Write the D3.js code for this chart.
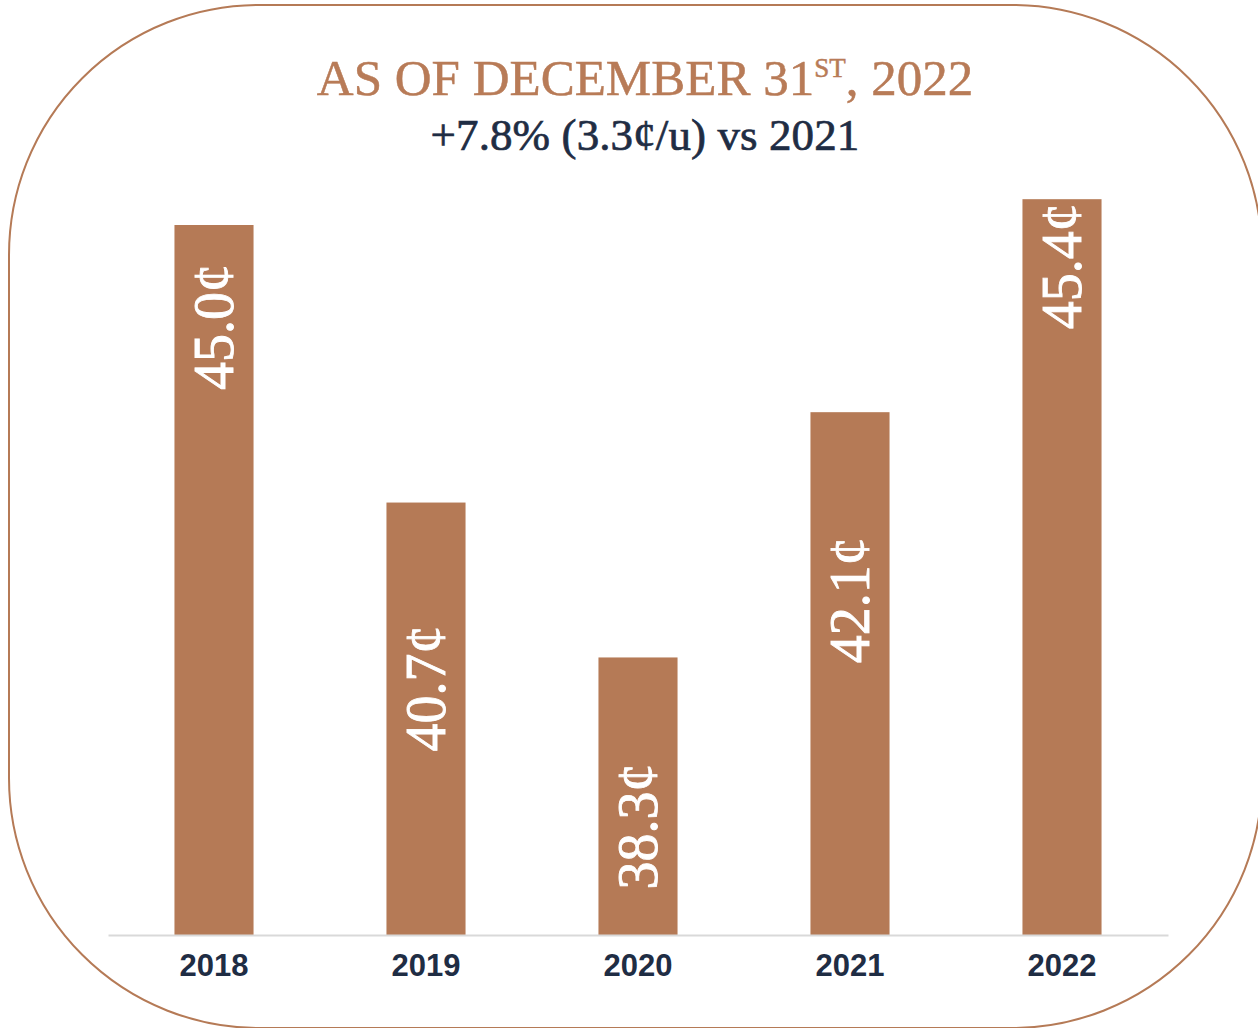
<!DOCTYPE html>
<html>
<head>
<meta charset="utf-8">
<script src="https://cdn.jsdelivr.net/npm/d3@7"></script>
<style>
  html, body { margin: 0; padding: 0; background: #ffffff; }
  svg { display: block; }
</style>
</head>
<body>
<div id="chart"></div>
<script>
// Unit cost by year (cents per unit)
const years = ["2018", "2019", "2020", "2021", "2022"];
const values = [45.0, 40.7, 38.3, 42.1, 45.4];
const valueLabels = ["45.0¢", "40.7¢", "38.3¢", "42.1¢", "45.4¢"];
const titleMain = "AS OF DECEMBER 31";
const titleSup = "ST";
const titleTail = ", 2022";
const subtitle = "+7.8% (3.3¢/u) vs 2021";

// where each rotated value label starts, measured down from the bar top (px)
const labelStartOffset = [165, 249, 232, 251, 130];

const W = 1258, H = 1028;
const copper = "#b57a56";
const navy = "#1f2d44";
const serif = "'Liberation Serif', 'Times New Roman', serif";

const svg = d3.select("#chart").append("svg")
  .attr("width", W).attr("height", H);

// rounded frame
svg.append("rect")
  .attr("x", 9).attr("y", 5)
  .attr("width", 1253).attr("height", 1023)
  .attr("rx", 250).attr("ry", 250)
  .attr("fill", "none")
  .attr("stroke", copper)
  .attr("stroke-width", 2);

// scales
const x = d3.scaleBand()
  .domain(years)
  .range([108, 1168])
  .paddingInner(0.627)
  .paddingOuter(0.3135);

const y = d3.scaleLinear()
  .domain([34, 45])
  .range([935, 225]);

// bars
svg.append("g").selectAll("rect")
  .data(years)
  .join("rect")
  .attr("x", d => x(d))
  .attr("width", x.bandwidth())
  .attr("y", (d, i) => y(values[i]))
  .attr("height", (d, i) => y(34) - y(values[i]))
  .attr("fill", copper);

// baseline axis
const axis = svg.append("g")
  .attr("transform", `translate(0,${y(34)})`)
  .call(d3.axisBottom(x).tickSize(0).tickPadding(19));
axis.select(".domain")
  .attr("stroke", "#d9d9d9")
  .attr("stroke-width", 2);
axis.selectAll(".tick text")
  .attr("fill", navy)
  .attr("font-family", "'Liberation Sans', Arial, sans-serif")
  .attr("font-weight", "bold")
  .attr("font-size", 31)
  .attr("dy", "0.71em");

// rotated value labels inside bars
svg.append("g").selectAll("text")
  .data(years)
  .join("text")
  .attr("transform", (d, i) => {
    const cx = x(d) + x.bandwidth() / 2;
    const sy = y(values[i]) + labelStartOffset[i];
    return `translate(${cx},${sy}) rotate(-90)`;
  })
  .attr("dy", "0.34em")
  .attr("text-anchor", "start")
  .attr("fill", "#ffffff")
  .attr("stroke", "#ffffff")
  .attr("stroke-width", 0.9)
  .attr("font-family", serif)
  .attr("font-size", 56)
  .text((d, i) => valueLabels[i]);

// titles
const title = svg.append("text")
  .attr("x", 645).attr("y", 95)
  .attr("text-anchor", "middle")
  .attr("fill", "#b87b57")
  .attr("stroke", "#b87b57")
  .attr("stroke-width", 0.5)
  .attr("font-family", serif)
  .attr("font-size", 51);
title.append("tspan").text(titleMain);
title.append("tspan").attr("dy", -18).attr("font-size", 27).text(titleSup);
title.append("tspan").attr("dy", 18).text(titleTail);

svg.append("text")
  .attr("x", 645).attr("y", 150)
  .attr("text-anchor", "middle")
  .attr("fill", navy)
  .attr("stroke", navy)
  .attr("stroke-width", 0.7)
  .attr("font-family", serif)
  .attr("font-size", 45)
  .attr("letter-spacing", 0.1)
  .text(subtitle);
</script>
</body>
</html>
